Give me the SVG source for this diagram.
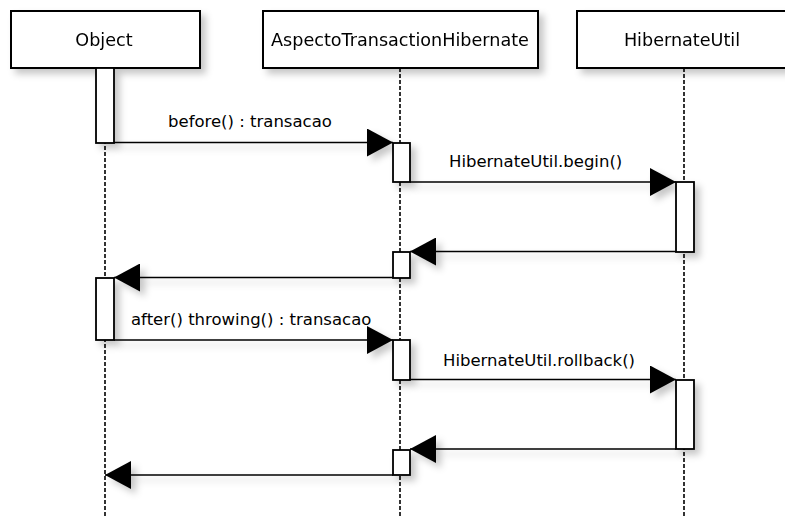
<svg xmlns="http://www.w3.org/2000/svg" width="785" height="517" viewBox="0 0 785 517">
  <style>
    .box { fill: #ffffff; stroke: #000000; stroke-width: 2; }
    .act { fill: #ffffff; stroke: #000000; stroke-width: 1.8; }
    .life { stroke: #000000; stroke-width: 1.6; stroke-dasharray: 4 2; fill: none; }
    .msg { stroke: #000000; stroke-width: 1.6; fill: none; marker-end: url(#head); }
    .name { font-family: "DejaVu Sans", "Liberation Sans", sans-serif; font-size: 17.6px; fill: #000000; text-anchor: middle; }
    .label { font-family: "DejaVu Sans", "Liberation Sans", sans-serif; font-size: 16.5px; fill: #000000; }
  </style>
  <defs>
    <filter id="shadow" x="-20%" y="-20%" width="160%" height="160%">
      <feDropShadow dx="5" dy="5" stdDeviation="3.5" flood-color="#000000" flood-opacity="0.22"/>
    </filter>
    <marker id="head" viewBox="0 0 26 28" refX="26" refY="14" markerWidth="26" markerHeight="28" markerUnits="userSpaceOnUse" orient="auto">
      <path d="M0,0 L26,14 L0,28 Z" fill="#000000"/>
    </marker>
  </defs>
  <rect width="785" height="517" fill="#ffffff"/>

  <!-- lifelines -->
  <g id="lifelines">
    <line class="life" x1="105" y1="68" x2="105" y2="517"/>
    <line class="life" x1="400" y1="68" x2="400" y2="517"/>
    <line class="life" x1="684" y1="68" x2="684" y2="517"/>
  </g>

  <!-- messages -->
  <g id="connectors" filter="url(#shadow)">
    <line class="msg" x1="114" y1="142.5" x2="393" y2="142.5"/>
    <line class="msg" x1="410" y1="182" x2="676" y2="182"/>
    <line class="msg" x1="676" y1="251.5" x2="410" y2="251.5"/>
    <line class="msg" x1="393" y1="277.5" x2="114" y2="277.5"/>
    <line class="msg" x1="114" y1="340" x2="393" y2="340"/>
    <line class="msg" x1="410" y1="379.5" x2="676" y2="379.5"/>
    <line class="msg" x1="676" y1="449" x2="410" y2="449"/>
    <line class="msg" x1="393" y1="475" x2="105" y2="475"/>
  </g>
  <g id="labels">
    <text class="label" x="168" y="127">before() : transacao</text>
    <text class="label" x="449" y="167">HibernateUtil.begin()</text>
    <text class="label" x="131" y="325">after() throwing() : transacao</text>
    <text class="label" x="443" y="366">HibernateUtil.rollback()</text>
  </g>

  <!-- participant: Object -->
  <g id="object" filter="url(#shadow)">
    <rect class="box" x="11" y="11" width="189" height="57"/>
    <text class="name" x="104" y="46">Object</text>
    <rect class="act" x="96" y="68" width="18" height="75"/>
    <rect class="act" x="96" y="278" width="18" height="62"/>
  </g>

  <!-- participant: AspectoTransactionHibernate -->
  <g id="aspecto" filter="url(#shadow)">
    <rect class="box" x="263" y="11" width="275" height="57"/>
    <text class="name" x="400" y="46">AspectoTransactionHibernate</text>
    <rect class="act" x="393" y="143" width="17" height="39"/>
    <rect class="act" x="393" y="252" width="17" height="26"/>
    <rect class="act" x="393" y="340" width="17" height="40"/>
    <rect class="act" x="393" y="450" width="17" height="25"/>
  </g>

  <!-- participant: HibernateUtil -->
  <g id="hibernateutil" filter="url(#shadow)">
    <rect class="box" x="577" y="11" width="214" height="57"/>
    <text class="name" x="682" y="46">HibernateUtil</text>
    <rect class="act" x="676" y="182" width="18" height="70"/>
    <rect class="act" x="676" y="380" width="18" height="69"/>
  </g>
</svg>
